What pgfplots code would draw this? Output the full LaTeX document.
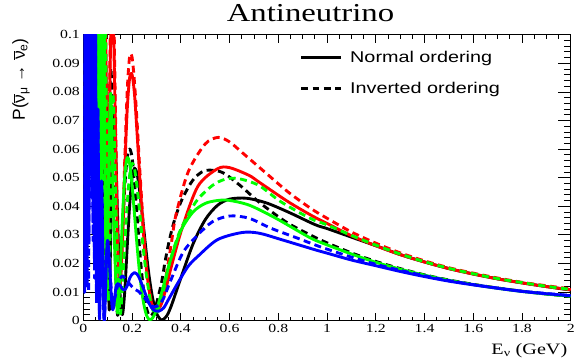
\documentclass[border=0pt]{standalone}
\usepackage{pgfplots}
\pgfplotsset{compat=1.18}
\usepackage{fontspec}
\setmainfont[FakeStretch=1.27]{Liberation Serif}
\setsansfont[FakeStretch=1.27]{Liberation Sans}
\newfontfamily\ylabfont{Liberation Sans}
\newcommand\nubar{\ensuremath{\overline{\mbox{ν}}}}
\definecolor{rred}{RGB}{255,0,0}
\definecolor{rgreen}{RGB}{0,255,0}
\definecolor{rblue}{RGB}{0,0,255}
\pgfplotsset{
  nsolid/.style={line width=2.9pt, smooth, line join=round, forget plot},
  ndash/.style={line width=2.9pt, smooth, line join=round, dash pattern=on 7pt off 4.5pt, forget plot}
}
\begin{document}
\begin{tikzpicture}
\begin{axis}[name=ax, scale only axis, width=491pt, height=288pt,
  xmin=0, xmax=2, ymin=0, ymax=0.1,
  xtick={0,0.2,0.4,0.6,0.8,1,1.2,1.4,1.6,1.8,2},
  ytick={0,0.01,0.02,0.03,0.04,0.05,0.06,0.07,0.08,0.09,0.1},
  minor x tick num=3, minor y tick num=4,
  scaled y ticks=false, scaled x ticks=false,
  yticklabel style={/pgf/number format/fixed,/pgf/number format/precision=2},
  /pgf/number format/assume math mode=true,
  tick label style={font=\rmfamily\fontsize{12.5}{14}\selectfont},
  xtick style={/pgfplots/major tick length=8pt,/pgfplots/minor tick length=4pt},
  ytick style={/pgfplots/major tick length=13pt,/pgfplots/minor tick length=6.5pt},
  tick style={line width=0.8pt, black},
  axis line style={line width=0.9pt},
  title={Antineutrino},
  title style={at={(rel axis cs:0.466,1.0243)}, anchor=base, font=\rmfamily\fontsize{26}{30}\selectfont},
  xlabel={E\textsubscript{ν} (GeV)},
  x label style={at={(rel axis cs:1,-0.118)}, anchor=base east, font=\rmfamily\fontsize{16}{19}\selectfont},
  ylabel={P(\nubar\textsubscript{μ} → \nubar\textsubscript{e})},
  y label style={at={(rel axis cs:-0.1202,1)}, anchor=base east, rotate=0, font=\ylabfont\fontsize{17.5}{20}\selectfont},
  legend image code/.code={\draw[#1] (0pt,0pt) -- (40pt,0pt);},
  legend cell align=left,
  legend style={draw=none, fill=none, at={(rel axis cs:0.4434,0.942)}, anchor=north west,
    font=\sffamily\fontsize{15.7}{18}\selectfont, row sep=18pt, inner sep=0pt,
    nodes={inner sep=0pt},
    /tikz/every odd column/.append style={column sep=8pt}},
]
% black solid (normal)
\addplot[nsolid, black] coordinates {(0.0355,0.28)(0.0382,0.0975)(0.0408,0.24)(0.0437,0.073)(0.0471,0.205)(0.0512,0.051)(0.056,0.166)(0.0618,0.032)(0.0689,0.13)(0.0778,0.0175)(0.0892,0.098)(0.1046,0.0074)(0.11,0.020)(0.12,0.0646)(0.1263,0.0722)(0.13,0.0675)(0.14,0.0372)(0.15,0.0100)(0.16,0.0021)(0.17,0.0106)(0.18,0.0261)(0.19,0.0405)(0.20,0.0500)(0.21,0.0533)(0.22,0.0515)(0.23,0.0460)(0.24,0.0384)(0.25,0.0303)(0.26,0.0224)(0.27,0.0154)(0.28,0.0098)(0.29,0.0055)(0.30,0.0025)(0.32,0.0002)(0.34,0.0014)(0.36,0.0050)(0.40,0.0149)(0.45,0.0268)(0.50,0.0353)(0.55,0.0403)(0.60,0.0425)(0.67,0.0428)(0.75,0.0412)(0.84,0.038)(0.95,0.0336)(1.0,0.0322)(1.1,0.0292)(1.2,0.0262)(1.3,0.0231)(1.4,0.0205)(1.5,0.0182)(1.6,0.0163)(1.7,0.0146)(1.8,0.0132)(1.9,0.0119)(2.0,0.0107)};
% black dashed (inverted)
\addplot[ndash, black] coordinates {(0.0363,0.103)(0.0387,0.27)(0.0413,0.079)(0.0444,0.23)(0.048,0.056)(0.0522,0.19)(0.0573,0.0367)(0.0634,0.153)(0.0711,0.0208)(0.0809,0.118)(0.0939,0.0095)(0.112,0.0881)(0.125,0.0399)(0.139,0.0027)(0.15,0.012)(0.16,0.03)(0.17,0.047)(0.18,0.057)(0.19,0.06)(0.20,0.057)(0.21,0.048)(0.22,0.037)(0.23,0.026)(0.24,0.016)(0.25,0.009)(0.26,0.004)(0.27,0.0018)(0.28,0.0018)(0.29,0.0035)(0.30,0.006)(0.32,0.013)(0.335,0.0205)(0.35,0.027)(0.37,0.034)(0.40,0.0415)(0.44,0.048)(0.47,0.051)(0.50,0.0525)(0.54,0.0525)(0.58,0.0514)(0.65,0.0468)(0.72,0.0415)(0.83,0.0346)(0.93,0.0300)(1.0,0.0272)(1.1,0.0237)(1.2,0.0207)(1.3,0.0182)(1.4,0.016)(1.5,0.0142)(1.6,0.0127)(1.7,0.0114)(1.8,0.0103)(1.9,0.0093)(2.0,0.0085)};
% red solid
\addplot[nsolid, rred] coordinates {(0.042,0.22)(0.0496,0.103)(0.0541,0.25)(0.0595,0.074)(0.0661,0.203)(0.0743,0.0488)(0.0849,0.158)(0.0991,0.028)(0.11,0.0894)(0.119,0.118)(0.13,0.0741)(0.14,0.0271)(0.15,0.0127)(0.16,0.0266)(0.17,0.053)(0.18,0.074)(0.19,0.085)(0.20,0.086)(0.21,0.079)(0.22,0.066)(0.23,0.052)(0.24,0.0385)(0.25,0.0268)(0.26,0.0172)(0.27,0.0105)(0.28,0.006)(0.29,0.0038)(0.30,0.0032)(0.32,0.0058)(0.34,0.0116)(0.36,0.0186)(0.405,0.0323)(0.47,0.047)(0.55,0.0531)(0.60,0.0535)(0.68,0.0508)(0.72,0.0485)(0.84,0.0416)(0.94,0.0366)(1.0,0.034)(1.1,0.0297)(1.2,0.0262)(1.3,0.0231)(1.4,0.0205)(1.5,0.0182)(1.6,0.0163)(1.7,0.0146)(1.8,0.0132)(1.9,0.0119)(2.0,0.0108)};
% red dashed
\addplot[ndash, rred] coordinates {(0.042,0.25)(0.0496,0.103)(0.0541,0.28)(0.0595,0.074)(0.0661,0.22)(0.0743,0.0488)(0.0849,0.174)(0.0991,0.028)(0.11,0.0983)(0.119,0.1315)(0.13,0.082)(0.14,0.0289)(0.15,0.0127)(0.16,0.0288)(0.17,0.0567)(0.18,0.0805)(0.19,0.0925)(0.20,0.092)(0.21,0.083)(0.22,0.070)(0.23,0.055)(0.24,0.041)(0.25,0.028)(0.26,0.018)(0.27,0.011)(0.28,0.0062)(0.29,0.0038)(0.30,0.0034)(0.32,0.0075)(0.34,0.016)(0.36,0.0265)(0.38,0.037)(0.43,0.052)(0.50,0.0618)(0.554,0.0641)(0.60,0.0625)(0.65,0.0589)(0.744,0.052)(0.84,0.045)(0.934,0.0392)(1.0,0.0358)(1.1,0.031)(1.2,0.0271)(1.3,0.0237)(1.4,0.0209)(1.5,0.0185)(1.6,0.0166)(1.7,0.0149)(1.8,0.0134)(1.9,0.0122)(2.0,0.0111)};
% green solid
\addplot[nsolid, rgreen] coordinates {(0.0363,0.108)(0.0387,0.26)(0.0413,0.083)(0.0444,0.22)(0.048,0.059)(0.0522,0.18)(0.0573,0.039)(0.0634,0.143)(0.0711,0.0224)(0.0809,0.1086)(0.0939,0.0104)(0.10,0.0335)(0.112,0.0795)(0.125,0.0348)(0.139,0.0031)(0.15,0.0151)(0.16,0.0352)(0.17,0.0507)(0.18,0.057)(0.19,0.0548)(0.20,0.0471)(0.21,0.0369)(0.22,0.0265)(0.23,0.0173)(0.24,0.0100)(0.25,0.0049)(0.26,0.0017)(0.27,0.0004)(0.28,0.0005)(0.29,0.0018)(0.30,0.0038)(0.32,0.0094)(0.34,0.0157)(0.36,0.0219)(0.40,0.0315)(0.45,0.038)(0.50,0.041)(0.55,0.042)(0.595,0.0421)(0.68,0.0404)(0.79,0.0358)(0.93,0.029)(1.0,0.0265)(1.1,0.0233)(1.2,0.0204)(1.3,0.018)(1.4,0.0159)(1.5,0.0141)(1.6,0.0126)(1.7,0.0113)(1.8,0.0102)(1.9,0.0093)(2.0,0.0085)};
% green dashed
\addplot[ndash, rgreen] coordinates {(0.0358,0.28)(0.0382,0.093)(0.0408,0.25)(0.0437,0.07)(0.0471,0.21)(0.0512,0.048)(0.056,0.17)(0.0618,0.03)(0.0689,0.139)(0.0778,0.016)(0.089,0.107)(0.103,0.0067)(0.12,0.079)(0.135,0.035)(0.15,0.003)(0.16,0.012)(0.17,0.027)(0.18,0.041)(0.19,0.051)(0.20,0.055)(0.21,0.053)(0.22,0.047)(0.23,0.039)(0.24,0.030)(0.25,0.022)(0.26,0.015)(0.27,0.0095)(0.28,0.005)(0.29,0.0028)(0.30,0.0025)(0.315,0.006)(0.33,0.011)(0.35,0.019)(0.39,0.030)(0.43,0.037)(0.47,0.0425)(0.53,0.0473)(0.58,0.0494)(0.635,0.0497)(0.72,0.0473)(0.81,0.0416)(0.93,0.0358)(1.0,0.0335)(1.1,0.0298)(1.2,0.0264)(1.3,0.0233)(1.4,0.0206)(1.5,0.0183)(1.6,0.0164)(1.7,0.0147)(1.8,0.0133)(1.9,0.012)(2.0,0.0109)};
% blue solid
\addplot[nsolid, rblue] coordinates {(0.003,0.12)(0.007,0.02)(0.011,0.12)(0.015,0.012)(0.019,0.12)(0.023,0.03)(0.027,0.26)(0.0283,0.089)(0.0297,0.236)(0.0313,0.07)(0.033,0.2025)(0.035,0.051)(0.0372,0.168)(0.0396,0.0346)(0.0425,0.135)(0.0457,0.0199)(0.0496,0.103)(0.0541,0.0086)(0.0595,0.074)(0.0661,0.0018)(0.0743,0.0488)(0.0849,0.0001)(0.0991,0.028)(0.119,0.0041)(0.135,0.0122)(0.15,0.0124)(0.16,0.011)(0.17,0.0108)(0.18,0.0122)(0.19,0.0148)(0.20,0.0162)(0.21,0.0168)(0.22,0.0163)(0.23,0.0148)(0.24,0.0127)(0.25,0.0104)(0.26,0.0081)(0.27,0.006)(0.28,0.0045)(0.29,0.0036)(0.31,0.0033)(0.33,0.0045)(0.35,0.0075)(0.39,0.0135)(0.43,0.019)(0.47,0.0225)(0.55,0.0283)(0.65,0.0308)(0.72,0.0306)(0.81,0.0284)(0.95,0.0248)(1.0,0.0236)(1.1,0.0212)(1.2,0.0192)(1.3,0.0172)(1.4,0.0154)(1.5,0.0138)(1.6,0.0125)(1.7,0.0113)(1.8,0.0102)(1.9,0.0094)(2.0,0.0087)};
% blue dashed
\addplot[ndash, rblue] coordinates {(0.001,0.09)(0.005,0.01)(0.009,0.12)(0.013,0.015)(0.017,0.12)(0.021,0.01)(0.0245,0.094)(0.027,0.25)(0.0283,0.078)(0.0297,0.236)(0.0313,0.06)(0.033,0.2)(0.035,0.043)(0.0372,0.168)(0.0396,0.028)(0.0425,0.135)(0.0457,0.015)(0.0496,0.103)(0.0541,0.0055)(0.0595,0.074)(0.0661,0.0006)(0.0743,0.0488)(0.0849,0.0008)(0.0991,0.028)(0.119,0.0069)(0.14,0.012)(0.15,0.0145)(0.16,0.0156)(0.175,0.0145)(0.19,0.0128)(0.21,0.011)(0.225,0.0103)(0.25,0.008)(0.27,0.006)(0.29,0.0048)(0.31,0.0055)(0.33,0.008)(0.36,0.0144)(0.41,0.024)(0.47,0.030)(0.53,0.0346)(0.6,0.0366)(0.68,0.0358)(0.77,0.0323)(0.88,0.0288)(0.95,0.0265)(1.0,0.025)(1.1,0.0222)(1.2,0.0197)(1.3,0.0176)(1.4,0.0157)(1.5,0.014)(1.6,0.0126)(1.7,0.0114)(1.8,0.0103)(1.9,0.0095)(2.0,0.0088)};
\addlegendimage{black, line width=2.9pt}
\addlegendentry{Normal ordering}
\addlegendimage{black, line width=2.9pt, dash pattern=on 7pt off 4.5pt}
\addlegendentry{Inverted ordering}
\end{axis}
\path ([shift={(-84pt,-43pt)}]ax.south west) rectangle ([shift={(3pt,35pt)}]ax.north east);
\end{tikzpicture}
\end{document}
